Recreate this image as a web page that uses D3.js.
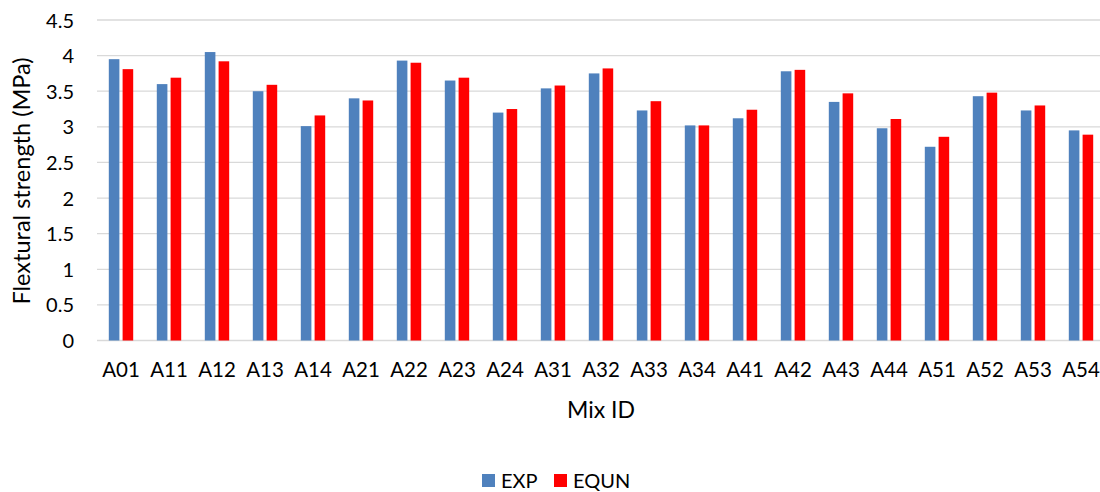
<!DOCTYPE html>
<html>
<head>
<meta charset="utf-8">
<script src="https://cdn.jsdelivr.net/npm/d3@7"></script>
<style>
  html, body { margin: 0; padding: 0; background: #fff; }
  svg { display: block; }
  text { font-family: Lato, "Open Sans", sans-serif; fill: #000; }
</style>
</head>
<body>
<svg id="chart" width="1100" height="492"></svg>
<script>
const categories = ["A01","A11","A12","A13","A14","A21","A22","A23","A24","A31","A32","A33","A34","A41","A42","A43","A44","A51","A52","A53","A54"];
const expValues  = [3.95,3.60,4.05,3.50,3.01,3.40,3.93,3.65,3.20,3.54,3.75,3.23,3.02,3.12,3.78,3.35,2.98,2.72,3.43,3.23,2.95];
const equnValues = [3.81,3.69,3.92,3.59,3.16,3.37,3.90,3.69,3.25,3.58,3.82,3.36,3.02,3.24,3.80,3.47,3.11,2.86,3.48,3.30,2.89];
const seriesNames = ["EXP","EQUN"];
const seriesColors = ["#4f81bd","#ff0000"];
const yTicks = [0,0.5,1,1.5,2,2.5,3,3.5,4,4.5];
const yTickLabels = ["0","0.5","1","1.5","2","2.5","3","3.5","4","4.5"];

const svg = d3.select("#chart");
const m = {left: 97, right: 1105, top: 20, bottom: 340.5};

const x = d3.scaleBand().domain(categories).range([m.left, m.right]).paddingInner(0).paddingOuter(0);
const y = d3.scaleLinear().domain([0, 4.5]).range([m.bottom, m.top]);
const barW = 10.6, gap = 3.2;
const groupW = barW * 2 + gap;

// gridlines
svg.append("g").selectAll("line").data(yTicks).join("line")
  .attr("x1", m.left).attr("x2", m.right)
  .attr("y1", d => y(d)).attr("y2", d => y(d))
  .attr("stroke", "#d9d9d9").attr("stroke-width", 1.3);

// y tick labels
const yAxis = d3.axisLeft(y).tickValues(yTicks).tickFormat((d,i) => yTickLabels[i]).tickSize(0).tickPadding(0);
const gy = svg.append("g").attr("transform", `translate(${m.left - 23},0)`).call(yAxis);
gy.select(".domain").remove();
gy.selectAll("text").style("font-size", "20px").style("font-family", "Lato, sans-serif").attr("fill", "#000").attr("dy", "0.35em");

// bars
const series = [expValues, equnValues];
series.forEach((vals, si) => {
  svg.append("g").selectAll("rect").data(categories).join("rect")
    .attr("x", (c) => x(c) + (x.bandwidth() - groupW) / 2 + si * (barW + gap))
    .attr("width", barW)
    .attr("y", (c, i) => y(vals[i]))
    .attr("height", (c, i) => y(0) - y(vals[i]))
    .attr("fill", seriesColors[si]);
});

// x tick labels
const xAxis = d3.axisBottom(x).tickSize(0).tickPadding(0);
const gx = svg.append("g").attr("transform", `translate(0,${m.bottom + 22})`).call(xAxis);
gx.select(".domain").remove();
gx.selectAll("text").style("font-size", "20.5px").style("font-family", "Lato, sans-serif").attr("fill", "#000").attr("dy", "0.71em");

// axis titles
svg.append("text").attr("x", (m.left + m.right) / 2).attr("y", 418)
  .attr("text-anchor", "middle").style("font-size", "23px").text("Mix ID");
svg.append("text").attr("transform", `translate(30,181) rotate(-90)`)
  .attr("text-anchor", "middle").style("font-size", "23.5px").text("Flextural strength (MPa)");

// legend
const legendX = [482, 554];
const leg = svg.append("g");
seriesNames.forEach((name, i) => {
  leg.append("rect").attr("x", legendX[i]).attr("y", 474).attr("width", 13).attr("height", 13).attr("fill", seriesColors[i]);
  leg.append("text").attr("x", legendX[i] + 19).attr("y", 488).style("font-size", "20px").text(name);
});
</script>
</body>
</html>
